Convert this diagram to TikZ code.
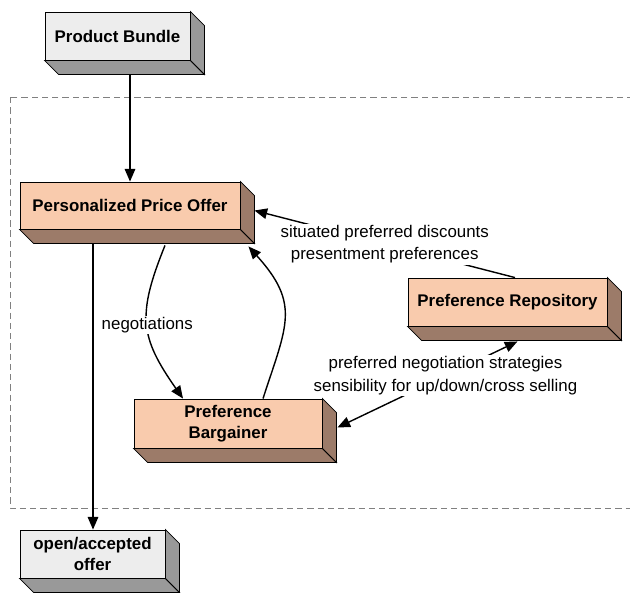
\documentclass[tikz,border=0pt]{standalone}
\usepackage{fontspec}
\setmainfont{Liberation Sans}
\usetikzlibrary{arrows.meta}

\definecolor{frontgray}{HTML}{EDEDED}
\definecolor{sidegray}{HTML}{999999}
\definecolor{frontpeach}{HTML}{F9CBAD}
\definecolor{sidebrown}{HTML}{9C7B69}
\definecolor{framegray}{HTML}{808080}

\tikzset{>={Triangle[length=9pt, width=7.5pt]}}

\begin{document}
\begin{tikzpicture}[x=0.025cm, y=0.025cm,
    slab/.style={draw=black, semithick, inner sep=0pt, align=center,
      font=\bfseries\fontsize{12}{15}\selectfont},
    flow/.style={black, line width=1pt},
    note/.style={fill=white, inner sep=1pt, align=center,
      font=\fontsize{12}{16}\selectfont}]

    \useasboundingbox (0,0) rectangle (630,-592);

    % system boundary
    \draw[framegray, semithick, dash pattern=on 4.5pt off 2.8pt] (10,-97) rectangle (660,-508);

    % front faces
    \node[slab, fill=frontgray, minimum width=3.625cm, minimum height=1.2cm] (BU) at (117.5,-36) {Product Bundle};
    \node[slab, fill=frontpeach, minimum width=5.5cm, minimum height=1.175cm] (PO) at (130,-205.5) {Personalized Price Offer};
    \node[slab, fill=frontpeach, minimum width=4.7cm, minimum height=1.225cm] (BA) at (228,-423.5) {Preference\\Bargainer};
    \node[slab, fill=frontpeach, minimum width=4.975cm, minimum height=1.2cm] (RE) at (507.5,-302) {Preference Repository};
    \node[slab, fill=frontgray, minimum width=3.625cm, minimum height=1.2cm] (OF) at (92.5,-554) {open/accepted\\offer};

    % depth faces
    \foreach \n/\c in {BU/sidegray, PO/sidebrown, BA/sidebrown, RE/sidebrown, OF/sidegray} {
      \filldraw[fill=\c, draw=black, semithick] (\n.south west) -- (\n.south east)
        -- ++(14,-14) -- ([shift={(14,-14)}]\n.south west) -- cycle;
      \filldraw[fill=\c, draw=black, semithick] (\n.north east) -- ++(14,-14)
        -- ([shift={(14,-14)}]\n.south east) -- (\n.south east) -- cycle;
    }

    \coordinate (BUb) at ([shift={(12.5,-15)}]BU.south);
    \coordinate (POb) at ([shift={(-37,-15)}]PO.south);

    \draw[flow, ->] (BUb) -- (BUb |- PO.north);
    \draw[flow, ->] (POb) -- (POb |- OF.north);

    \draw[flow, ->] ([shift={(7.5,0)}]RE.north) -- node[note]
      {situated preferred discounts\\presentment preferences} ([shift={(14,-5)}]PO.east);
    \draw[flow, <->] ([shift={(10,-15)}]RE.south) -- node[note, pos=0.4]
      {preferred negotiation strategies\\sensibility for up/down/cross selling} ([shift={(15,-4)}]BA.east);

    \draw[flow, ->] ([shift={(35,-16)}]PO.south) to[out=-112, in=125, looseness=1.25]
      node[note] {negotiations} ([shift={(-45,0)}]BA.north);
    \draw[flow, ->] ([shift={(35,0)}]BA.north) to[out=72, in=-48, looseness=1.3] ([shift={(8,-17)}]PO.south east);

  \end{tikzpicture}
\end{document}
